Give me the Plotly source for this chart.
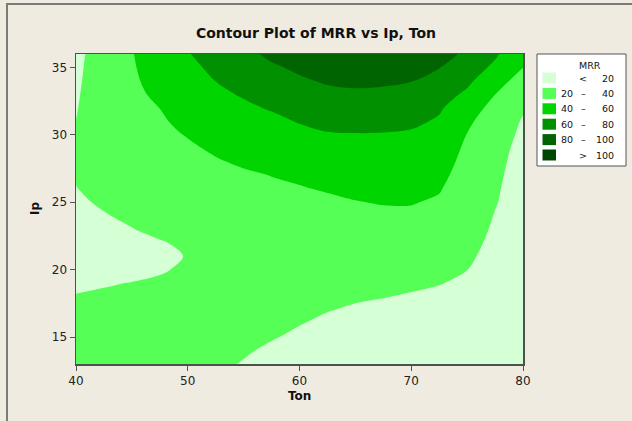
import numpy as np
import plotly.graph_objects as go

# ---- data -------------------------------------------------------------
ton_values = [40, 42.5, 45, 47.5, 50, 52.5, 55, 57.5, 60, 62.5, 65, 67.5, 70, 72.5, 75, 77.5, 80]
ip_values = list(range(13, 37))  # 13 .. 36

# MRR read along each Ton column, from Ip = 13 (first) to Ip = 36 (last)
mrr_ton40 = [30, 28, 26.2, 24.3, 22.4, 20.4, 18.5, 16, 14, 12.5, 13.5, 15.5, 17.5, 19.6, 21.2, 22, 22, 21.2, 20.1, 19.3, 18.6, 17.8, 17, 16]
mrr_ton42_5 = [31, 29, 27, 25, 23.2, 21.3, 19.3, 16.5, 14.5, 14, 16, 19, 22, 24.5, 26, 27, 27.5, 27.8, 28, 28, 28, 28, 28, 28]
mrr_ton45 = [32, 30, 28, 26, 24, 22, 20.3, 17, 15, 16, 19.5, 23, 26, 28, 29.5, 31, 32.3, 33.5, 34.6, 35.6, 36.5, 37.4, 38.2, 39]
mrr_ton47_5 = [31, 29.5, 28, 26.5, 25, 23.3, 22.3, 18.5, 16, 18.8, 24, 27, 29.5, 31.5, 33, 34.5, 35.8, 37.2, 38.6, 40.1, 43, 46, 49, 52]
mrr_ton50 = [28, 27.5, 27, 26.5, 26, 25.2, 24, 22.5, 20.8, 23, 26.5, 29, 31, 33, 34.8, 36.5, 38.3, 40.6, 43, 45.5, 48.5, 52, 55.5, 59]
mrr_ton52_5 = [23, 24, 25, 26, 26.5, 27, 27.2, 27.3, 27.5, 28.2, 29.5, 31, 32.8, 34.7, 36.8, 39, 41.6, 45, 48.5, 52.5, 56.5, 60.2, 64, 68]
mrr_ton55 = [19, 21.7, 24, 26, 27.5, 28.5, 29.3, 30, 30.8, 31.6, 32.5, 33.5, 34.7, 36.2, 38.5, 41.5, 45, 48.5, 52.5, 57, 61.5, 66.5, 71.5, 76]
mrr_ton57_5 = [15, 17.5, 21, 24.5, 27, 29, 30.6, 32, 33.2, 34.3, 35.3, 36.3, 37.3, 38.3, 40.2, 44, 48, 52.5, 56, 61.5, 67.5, 73, 78, 83]
mrr_ton60 = [12, 14.5, 17.5, 20.5, 23.5, 26, 28.2, 30.2, 32, 33.6, 35, 36.3, 37.6, 39.2, 42, 45.5, 50, 55, 61, 67, 72.5, 78, 82.5, 86]
mrr_ton62_5 = [10, 12, 14.5, 17.3, 20.5, 23.5, 26.2, 28.7, 30.8, 32.7, 34.3, 35.8, 37.8, 41, 44.5, 48.5, 53, 58.5, 65, 71, 76.5, 81.5, 86, 90]
mrr_ton65 = [9, 11, 13, 15.5, 18.5, 21.5, 24.5, 27.2, 29.7, 32, 34.2, 36.5, 39.5, 43, 46.5, 50.3, 54.5, 59.2, 65.3, 71.5, 77.5, 83, 88, 92]
mrr_ton67_5 = [9, 10.5, 12.5, 14.8, 17.2, 20.4, 23.6, 26.5, 29.2, 31.8, 34.3, 37.2, 40.8, 44.2, 47.5, 51, 55, 59, 64.5, 70.5, 76.5, 82.5, 87.5, 91]
mrr_ton70 = [9, 10.5, 12.2, 14.2, 16.4, 19, 22, 25, 28, 31, 34, 37.4, 40.8, 44, 47, 50, 53.2, 57.5, 63.5, 69, 74.5, 80.5, 85, 88]
mrr_ton72_5 = [9, 10.5, 12, 13.8, 15.8, 17.8, 20.4, 23.5, 26.4, 29.3, 32.2, 35, 38.1, 41.1, 44, 47, 50, 53.5, 57.8, 62.2, 67, 73, 80.5, 84]
mrr_ton75 = [9, 10.5, 12, 13.5, 15, 16.5, 18.2, 20.1, 22, 24, 26, 27.8, 29.6, 31.4, 33.2, 35, 37, 39.5, 43.5, 49, 57, 63.5, 70.5, 78]
mrr_ton77_5 = [8, 9, 10, 11, 12, 13, 14, 15, 16, 17, 18.2, 19.4, 20.8, 21.6, 22.4, 23.2, 24, 25.5, 29, 34, 40.1, 48, 56, 63]
mrr_ton80 = [7, 7.5, 8, 8.5, 9, 9.5, 10, 10.5, 11, 11.5, 12, 12.6, 13.3, 14, 14.8, 15.7, 16.7, 17.8, 18.8, 21.5, 26, 32, 40.2, 43]

levels = [20, 40, 60, 80, 100]
band_colors = ["#D5FFD5", "#55FF55", "#00D500", "#009000", "#006400", "#004600"]
legend_labels = [("<", "", "20"), ("20", "–", "40"), ("40", "–", "60"),
                 ("60", "–", "80"), ("80", "–", "100"), (">", "", "100")]

x_ticks = [40, 50, 60, 70, 80]
y_ticks = [15, 20, 25, 30, 35]

# ---- build grid ----------------------------------------------------------
columns = [mrr_ton40, mrr_ton42_5, mrr_ton45, mrr_ton47_5, mrr_ton50, mrr_ton52_5,
           mrr_ton55, mrr_ton57_5, mrr_ton60, mrr_ton62_5, mrr_ton65, mrr_ton67_5,
           mrr_ton70, mrr_ton72_5, mrr_ton75, mrr_ton77_5, mrr_ton80]
z = np.array(columns).T  # rows = Ip, columns = Ton

step = levels[1] - levels[0]
zmin = levels[0] - step
zmax = levels[-1] + step
n = len(band_colors)
colorscale = []
for i, c in enumerate(band_colors):
    colorscale.append([i / n + (0.002 if i else 0), c])
    colorscale.append([(i + 1) / n - (0.002 if i < n - 1 else 0), c])

fig = go.Figure()
fig.add_trace(go.Contour(
    x=ton_values, y=ip_values, z=z,
    zmin=zmin, zmax=zmax, zauto=False,
    colorscale=colorscale, showscale=False,
    contours=dict(start=levels[0], end=levels[-1], size=step, coloring="fill"),
    line=dict(width=0, smoothing=1),
    hoverinfo="skip",
))

# ---- layout geometry (pixels) ------------------------------------------
W, H = 632, 421
L, R, T, B = 76, 523, 54, 364
pw, ph = R - L, B - T


def px(xp):
    return (xp - L) / pw


def py(yp):
    return (B - yp) / ph


font = "DejaVu Sans, Verdana, sans-serif"
shapes = []
annotations = []

# outer frame of the Minitab graph window
shapes.append(dict(type="rect", xref="paper", yref="paper",
                   x0=px(7), x1=px(645), y0=py(435), y1=py(4),
                   line=dict(color="#7a7a7a", width=2), fillcolor="rgba(0,0,0,0)", layer="below"))

# legend box
shapes.append(dict(type="rect", xref="paper", yref="paper",
                   x0=px(537), x1=px(626), y0=py(166), y1=py(54),
                   line=dict(color="#555555", width=1), fillcolor="white"))
annotations.append(dict(text="MRR", xref="paper", yref="paper", x=px(590), y=py(65),
                        showarrow=False, xanchor="center", yanchor="middle",
                        font=dict(family=font, size=9.5, color="#111")))
for i, (c, (lo, dash, hi)) in enumerate(zip(band_colors, legend_labels)):
    cy = 78 + 15.4 * i
    shapes.append(dict(type="rect", xref="paper", yref="paper",
                       x0=px(542.5), x1=px(556), y0=py(cy + 5.5), y1=py(cy - 5.5),
                       line=dict(width=0), fillcolor=c))
    if dash:
        annotations.append(dict(text=lo, xref="paper", yref="paper", x=px(575), y=py(cy),
                                showarrow=False, xanchor="right", yanchor="middle",
                                font=dict(family=font, size=9.5, color="#111")))
        annotations.append(dict(text=dash, xref="paper", yref="paper", x=px(583), y=py(cy),
                                showarrow=False, xanchor="center", yanchor="middle",
                                font=dict(family=font, size=9.5, color="#111")))
    else:
        annotations.append(dict(text=lo, xref="paper", yref="paper", x=px(583), y=py(cy),
                                showarrow=False, xanchor="center", yanchor="middle",
                                font=dict(family=font, size=9.5, color="#111")))
    annotations.append(dict(text=hi, xref="paper", yref="paper", x=px(616), y=py(cy),
                            showarrow=False, xanchor="right", yanchor="middle",
                            font=dict(family=font, size=9.5, color="#111")))

# axis titles
annotations.append(dict(text="<b>Ton</b>", xref="paper", yref="paper", x=0.5, y=py(396),
                        showarrow=False, xanchor="center", yanchor="middle",
                        font=dict(family=font, size=12, color="#111")))
annotations.append(dict(text="<b>Ip</b>", xref="paper", yref="paper", x=px(35), y=0.5,
                        showarrow=False, xanchor="center", yanchor="middle", textangle=-90,
                        font=dict(family=font, size=12, color="#111")))

axis_common = dict(showgrid=False, zeroline=False, showline=True, mirror=True,
                   linecolor="#4a524a", linewidth=1.5, ticks="outside", ticklen=5,
                   tickcolor="#555555", tickwidth=1,
                   tickfont=dict(family=font, size=12, color="#222"))

fig.update_layout(
    width=W, height=H,
    margin=dict(l=L, r=W - R, t=T, b=H - B, autoexpand=False),
    paper_bgcolor="#EFEBE0", plot_bgcolor="#EFEBE0",
    title=dict(text="<b>Contour Plot of MRR vs Ip, Ton</b>", x=0.5, xref="container",
               y=1 - 33 / H, yref="container", xanchor="center", yanchor="middle",
               font=dict(family=font, size=14, color="#111")),
    xaxis=dict(range=[ton_values[0], ton_values[-1]], tickvals=x_ticks, **axis_common),
    yaxis=dict(range=[ip_values[0], ip_values[-1]], tickvals=y_ticks, **axis_common),
    shapes=shapes, annotations=annotations,
    showlegend=False,
)

fig.write_html(
    "out.html",
    config={"displayModeBar": False, "staticPlot": True},
    post_script="document.body.style.margin='0';document.body.style.padding='0';"
                "document.body.style.overflow='hidden';",
)
